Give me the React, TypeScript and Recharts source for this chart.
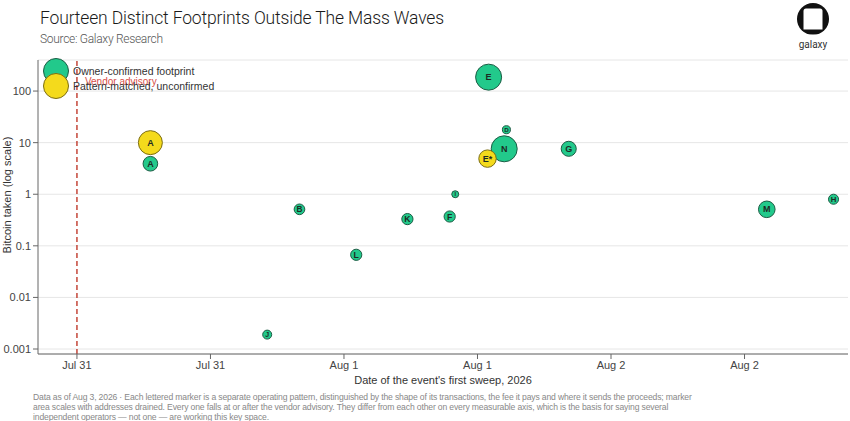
import { ScatterChart, Scatter, XAxis, YAxis, ZAxis, CartesianGrid, ReferenceLine, Legend, Label } from 'recharts';

// hours after Jul 31 00:00 (vendor advisory), bitcoin taken, addresses drained
const confirmedLabels = ['A', 'B', 'D', 'E', 'F', 'G', 'H', 'I', 'J', 'K', 'L', 'M', 'N'];
const confirmedHours = [6.6, 20.0, 38.6, 37.0, 33.5, 44.2, 68.0, 34.0, 17.1, 29.7, 25.1, 62.0, 38.4];
const confirmedBtc = [3.9, 0.51, 17.8, 186, 0.37, 7.6, 0.8, 1.0, 0.0019, 0.33, 0.067, 0.51, 7.6];
const confirmedAddresses = [53, 28, 16, 167, 31, 56, 25, 12, 20, 31, 31, 68, 167];

const unconfirmedLabels = ['A', 'E*'];
const unconfirmedHours = [6.6, 36.9];
const unconfirmedBtc = [10, 4.9];
const unconfirmedAddresses = [142, 75];

const xTicks = [0, 12, 24, 36, 48, 60];
const xTickLabels = ['Jul 31', 'Jul 31', 'Aug 1', 'Aug 1', 'Aug 2', 'Aug 2'];
const yTicks = [0.001, 0.01, 0.1, 1, 10, 100];
const yTickLabels = ['0.001', '0.01', '0.1', '1', '10', '100'];

const seriesNames = ['Owner-confirmed footprint', 'Pattern-matched, unconfirmed'];

const GREEN = '#22c98b';
const GREEN_EDGE = '#1c5c44';
const YELLOW = '#f4da1c';
const YELLOW_EDGE = '#7c6d12';

const confirmed = confirmedLabels.map((label, i) => ({
  label,
  hours: confirmedHours[i],
  btc: confirmedBtc[i],
  addresses: confirmedAddresses[i],
}));
const unconfirmed = unconfirmedLabels.map((label, i) => ({
  label,
  hours: unconfirmedHours[i],
  btc: unconfirmedBtc[i],
  addresses: unconfirmedAddresses[i],
}));

function Marker(props: any) {
  const { cx, cy, payload, fill, stroke } = props;
  const r = typeof props.size === 'number' ? Math.sqrt(Math.max(props.size, 0) / Math.PI) : (props.width || 8) / 2;
  const fs = Math.min(9, r * 1.55);
  return (
    <g>
      <circle cx={cx} cy={cy} r={r} fill={fill} stroke={stroke} strokeWidth={1} />
      <text x={cx} y={cy} dy={fs * 0.35} textAnchor="middle" fontSize={fs} fontWeight={700} fill="#1d2a24" fontFamily="Liberation Sans, Arial, sans-serif">
        {payload.label}
      </text>
    </g>
  );
}

function LegendBox() {
  const items = [
    { name: seriesNames[0], color: GREEN, edge: GREEN_EDGE, top: 0 },
    { name: seriesNames[1], color: YELLOW, edge: YELLOW_EDGE, top: 15 },
  ];
  return (
    <div style={{ position: 'relative', width: 200, height: 42 }}>
      {items.map((it) => (
        <div key={it.name} style={{ position: 'absolute', left: 0, top: it.top, height: 26, display: 'flex', alignItems: 'center' }}>
          <span style={{ width: 24, height: 24, borderRadius: '50%', background: it.color, border: `1px solid ${it.edge}`, display: 'inline-block' }} />
          <span style={{ marginLeft: 4, fontSize: 10.5, color: '#333', whiteSpace: 'nowrap' }}>{it.name}</span>
        </div>
      ))}
    </div>
  );
}

function GalaxyLogo() {
  return (
    <svg width="40" height="52" viewBox="0 0 40 52">
      <defs>
        <clipPath id="logoClip">
          <rect x="0" y="0" width="40" height="34.5" />
        </clipPath>
      </defs>
      <circle cx="20" cy="19" r="16" fill="#111" clipPath="url(#logoClip)" />
      <path d="M10.5 11 Q10.5 8.5 13 8.5 L27 8.5 Q29.5 8.5 29.5 11 L29.5 29.5 L10.5 29.5 Z" fill="#fff" />
      <text x="20" y="48" textAnchor="middle" fontSize="10" fill="#333" fontFamily="Roboto, sans-serif">galaxy</text>
    </svg>
  );
}

const footnote = [
  'Data as of Aug 3, 2026 · Each lettered marker is a separate operating pattern, distinguished by the shape of its transactions, the fee it pays and where it sends the proceeds; marker',
  'area scales with addresses drained. Every one falls at or after the vendor advisory. They differ from each other on every measurable axis, which is the basis for saying several',
  'independent operators — not one — are working this key space.',
];

export default function App() {
  const tickStyle = { fontSize: 11, fill: '#444', fontFamily: 'Liberation Sans, Arial, sans-serif' };
  return (
    <div style={{ position: 'relative', width: 850, height: 421, background: '#fff', fontFamily: 'Liberation Sans, Arial, sans-serif', overflow: 'hidden' }}>
      <style>{'body{margin:0}'}</style>
      <div style={{ position: 'absolute', left: 40, top: 8, fontFamily: 'Roboto, sans-serif', fontSize: 17.5, fontWeight: 300, color: '#1a1a1a', letterSpacing: -0.15, whiteSpace: 'nowrap' }}>
        Fourteen Distinct Footprints Outside The Mass Waves
      </div>
      <div style={{ position: 'absolute', left: 40, top: 32, fontFamily: 'Roboto, sans-serif', fontSize: 12, fontWeight: 300, color: '#555', letterSpacing: -0.3, whiteSpace: 'nowrap' }}>
        Source: Galaxy Research
      </div>
      <div style={{ position: 'absolute', left: 793, top: 0 }}>
        <GalaxyLogo />
      </div>
      <ScatterChart width={850} height={421} margin={{ top: 60, right: 2, bottom: 37, left: 0 }}>
        <CartesianGrid vertical={false} stroke="#e6e6e6" />
        <XAxis
          type="number"
          dataKey="hours"
          domain={[-3.5, 69.3]}
          ticks={xTicks}
          tickFormatter={(v: number) => xTickLabels[xTicks.indexOf(v)] ?? ''}
          tick={tickStyle}
          stroke="#666"
          tickSize={5}
          height={30}
          allowDataOverflow
        >
          <Label value="Date of the event's first sweep, 2026" position="insideBottom" offset={0} style={{ fontSize: 11, fill: '#333' }} />
        </XAxis>
        <YAxis
          type="number"
          dataKey="btc"
          scale="log"
          domain={[0.0008, 400]}
          ticks={yTicks}
          tickFormatter={(v: number) => yTickLabels[yTicks.indexOf(v)] ?? String(v)}
          tick={tickStyle}
          stroke="#666"
          tickSize={5}
          width={38}
          allowDataOverflow
        >
          <Label
            content={() => (
              <text x={11} y={195} transform="rotate(-90 11 195)" textAnchor="middle" fontSize={11} fill="#333">
                Bitcoin taken (log scale)
              </text>
            )}
          />
        </YAxis>
        <ZAxis type="number" dataKey="addresses" domain={[0, 180]} range={[0, 573]} />
        <ReferenceLine
          x={0}
          stroke="#c0392b"
          strokeDasharray="5 3"
          strokeWidth={1.4}
          label={(p: any) => (
            <text x={(p.viewBox?.x ?? 77) + 8} y={(p.viewBox?.y ?? 60) + 25} fontSize={10} fill="#d8504a">
              Vendor advisory
            </text>
          )}
        />
        <Scatter name={seriesNames[0]} data={confirmed} fill={GREEN} stroke={GREEN_EDGE} shape={<Marker />} isAnimationActive={false} />
        <Scatter name={seriesNames[1]} data={unconfirmed} fill={YELLOW} stroke={YELLOW_EDGE} shape={<Marker />} isAnimationActive={false} />
        <Legend layout="horizontal" verticalAlign="middle" content={() => <LegendBox />} wrapperStyle={{ left: 43, top: 58, width: 200 }} />
      </ScatterChart>
      <div style={{ position: 'absolute', left: 33, top: 392, fontSize: 8.6, letterSpacing: -0.15, lineHeight: '10px', color: '#888', whiteSpace: 'nowrap' }}>
        {footnote.map((l) => (
          <div key={l}>{l}</div>
        ))}
      </div>
    </div>
  );
}
